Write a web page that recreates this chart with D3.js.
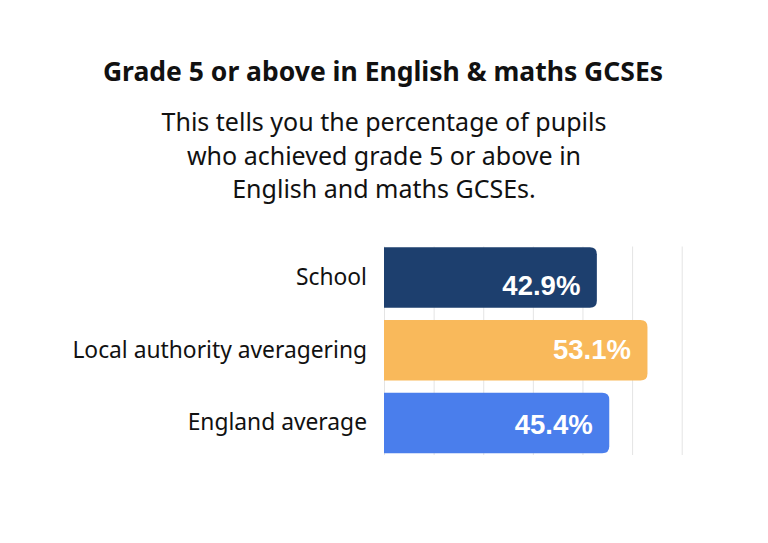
<!DOCTYPE html>
<html>
<head>
<meta charset="utf-8">
<script src="https://cdn.jsdelivr.net/npm/d3@7"></script>
<style>
  body { margin: 0; background: #fff; }
</style>
</head>
<body>
<div class="chart"></div>
<script>
// data
var categories = ["School", "Local authority averagering", "England average"];
var values = [42.9, 53.1, 45.4];
var barColors = ["#1d3f6e", "#f9b95b", "#4a7eec"];
var gridTicks = [0, 10, 20, 30, 40, 50, 60];
var titleText = "Grade 5 or above in English & maths GCSEs";
var subtitleLines = [
    "This tells you the percentage of pupils",
    "who achieved grade 5 or above in",
    "English and maths GCSEs."
];

// the value labels do not sit at the same height in every bar
var labelDy = [17.5, 8.3, 11.2];

var width = 768, height = 543;
var sansFont = "'Noto Sans', 'Open Sans', sans-serif";

var svg = d3.select(".chart")
    .append("svg")
    .attr("width", width)
    .attr("height", height);

svg.append("rect")
    .attr("width", width)
    .attr("height", height)
    .attr("fill", "#fff");

// title + subtitle
svg.append("text")
    .attr("x", 383)
    .attr("y", 81)
    .attr("text-anchor", "middle")
    .attr("font-family", sansFont)
    .attr("font-weight", "bold")
    .attr("font-size", 26.5)
    .attr("fill", "#111")
    .text(titleText);

svg.selectAll(".subtitle")
    .data(subtitleLines)
    .enter().append("text")
    .attr("class", "subtitle")
    .attr("x", 384)
    .attr("y", function (d, i) { return 131 + i * 33.7; })
    .attr("text-anchor", "middle")
    .attr("font-family", sansFont)
    .attr("font-size", 25)
    .attr("fill", "#111")
    .text(function (d) { return d; });

// scales
var x = d3.scaleLinear()
    .domain([0, 60])
    .range([384, 681.7]);

var y = d3.scaleBand()
    .domain(categories)
    .range([241.2, 459.3])
    .paddingInner(0.168)
    .paddingOuter(0.084);

// gridlines
svg.append("g")
    .attr("class", "grid")
    .selectAll("line")
    .data(gridTicks)
    .enter().append("line")
    .attr("x1", function (d) { return x(d) + 0.5; })
    .attr("x2", function (d) { return x(d) + 0.5; })
    .attr("y1", 246.5)
    .attr("y2", 455)
    .attr("stroke", "#e4e4e4")
    .attr("stroke-width", 1);

// bars, square on the left, rounded on the right
var r = 7;
function barPath(d, i) {
    var x0 = x(0), x1 = x(values[i]);
    var y0 = y(d), y1 = y(d) + y.bandwidth();
    return "M" + x0 + "," + y0 +
        "H" + (x1 - r) +
        "Q" + x1 + "," + y0 + " " + x1 + "," + (y0 + r) +
        "V" + (y1 - r) +
        "Q" + x1 + "," + y1 + " " + (x1 - r) + "," + y1 +
        "H" + x0 + "Z";
}

svg.append("g")
    .attr("class", "bars")
    .selectAll("path")
    .data(categories)
    .enter().append("path")
    .attr("d", barPath)
    .attr("fill", function (d, i) { return barColors[i]; });

// value labels inside the bars
svg.append("g")
    .selectAll("text")
    .data(categories)
    .enter().append("text")
    .attr("x", function (d, i) { return x(values[i]) - 16.5; })
    .attr("y", function (d, i) { return y(d) + y.bandwidth() / 2 + labelDy[i]; })
    .attr("text-anchor", "end")
    .attr("font-family", "'Liberation Sans', Arial, sans-serif")
    .attr("font-weight", "bold")
    .attr("font-size", 27.5)
    .attr("fill", "#fff")
    .text(function (d, i) { return values[i].toFixed(1) + "%"; });

// category labels
svg.append("g")
    .selectAll("text")
    .data(categories)
    .enter().append("text")
    .attr("x", 367)
    .attr("y", function (d) { return y(d) + y.bandwidth() / 2 + 7.5; })
    .attr("text-anchor", "end")
    .attr("font-family", sansFont)
    .attr("font-size", 22.8)
    .attr("fill", "#111")
    .text(function (d) { return d; });
</script>
</body>
</html>
